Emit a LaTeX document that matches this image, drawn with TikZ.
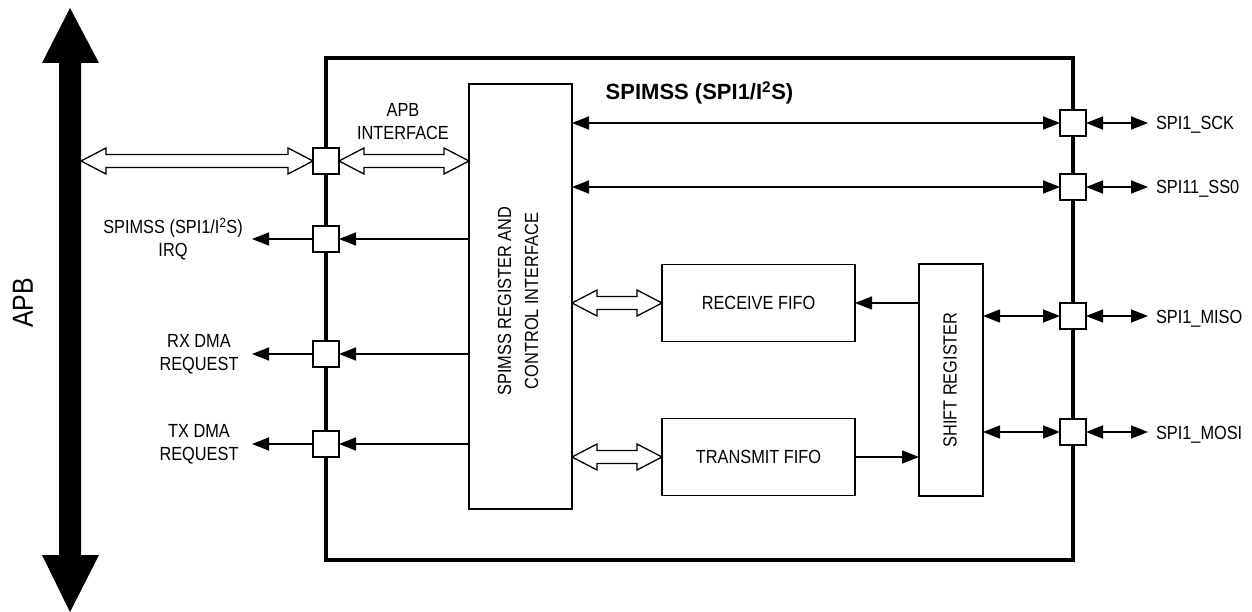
\documentclass[tikz,border=0pt]{standalone}
\usepackage{fontspec}
\setmainfont{Liberation Sans}[FakeStretch=0.86]
\newfontfamily\titlefont{Liberation Sans}
\usetikzlibrary{arrows.meta,calc}
\tikzset{
  lbl/.style={font=\fontsize{19}{23}\selectfont, inner sep=0pt, outer sep=0pt},
  blk/.style={draw, line width=1.7pt, inner sep=0pt, outer sep=0pt, fill=white, font=\fontsize{19}{23}\selectfont},
  pinbox/.style={blk, minimum width=26pt, minimum height=26pt},
  sig/.style={line width=1.6pt, -{Triangle[length=17pt,width=13pt]}},
  sigb/.style={line width=1.6pt, {Triangle[length=17pt,width=13pt]}-{Triangle[length=17pt,width=13pt]}},
  hollowstyle/.style={draw, line width=1.3pt, fill=white, line join=miter}
}
\newcommand\hollowarrow[2]{%
  \draw[hollowstyle] (#1) -- ($(#1)+(25,13)$) -- ($(#1)+(25,6.5)$) -- ($(#2)+(-25,6.5)$)
   -- ($(#2)+(-25,13)$) -- (#2) -- ($(#2)+(-25,-13)$) -- ($(#2)+(-25,-6.5)$)
   -- ($(#1)+(25,-6.5)$) -- ($(#1)+(25,-13)$) -- cycle;}
\begin{document}
\begin{tikzpicture}[x=1pt,y=-1pt]
\useasboundingbox (0,0) rectangle (1252,612);
% APB bus
\fill (59,63) -- (42,63) -- (70,8) -- (99,63) -- (81,63) -- (81,555) -- (99,555) -- (70,612) -- (42,555) -- (59,555) -- cycle;
\coordinate (busE) at (81,161);
\node[font=\fontsize{29}{32}\selectfont, rotate=90, inner sep=0pt] (apb) at (23,303) {APB};
% main block
\node[draw, line width=3.2pt, minimum width=747pt, minimum height=502pt, inner sep=0pt, outer sep=0pt] (spimss) at (699.5,309) {};
\node[font=\titlefont\bfseries\fontsize{22}{26}\selectfont, anchor=base, inner sep=0pt] (title) at (699.5,100) {SPIMSS (SPI1/I\textsuperscript{2}S)};
% inner blocks
\node[blk, minimum width=103pt, minimum height=425pt] (reg) at (520.5,296.5) {};
\node[lbl, rotate=90, align=center, font=\fontsize{19}{27}\selectfont] (regtxt) at (518,301) {SPIMSS REGISTER AND\\CONTROL INTERFACE};
\node[blk, minimum width=193pt, minimum height=77pt] (rx) at (758.5,303) {RECEIVE FIFO};
\node[blk, minimum width=193pt, minimum height=77pt] (tx) at (758.5,457) {TRANSMIT FIFO};
\node[blk, minimum width=64pt, minimum height=232pt] (shift) at (951,380) {};
\node[lbl, rotate=90] (shifttxt) at (950,380) {SHIFT REGISTER};
% pins left
\node[pinbox] (papb) at (326,161) {};
\node[pinbox] (pirq) at (326,239) {};
\node[pinbox] (prx) at (326,354) {};
\node[pinbox] (ptx) at (326,444) {};
% pins right
\node[pinbox] (psck) at (1073,123) {};
\node[pinbox] (pss) at (1073,187) {};
\node[pinbox] (pmiso) at (1073,316) {};
\node[pinbox] (pmosi) at (1073,432) {};
% left labels
\node[lbl, align=center] (lirq) at (173,239) {SPIMSS (SPI1/I\textsuperscript{2}S)\\IRQ};
\node[lbl, align=center] (lrx) at (199,354) {RX DMA\\REQUEST};
\node[lbl, align=center] (ltx) at (199,444) {TX DMA\\REQUEST};
\node[lbl, align=center] (lapbif) at (403,122) {APB\\INTERFACE};
\coordinate (tirq) at (252,239);
\coordinate (trx) at (252,354);
\coordinate (ttx) at (252,444);
% right labels
\node[lbl, anchor=base west] (lsck) at (1156,130) {SPI1\_SCK};
\node[lbl, anchor=base west] (lss) at (1156,194) {SPI11\_SS0};
\node[lbl, anchor=base west] (lmiso) at (1156,323) {SPI1\_MISO};
\node[lbl, anchor=base west] (lmosi) at (1156,439) {SPI1\_MOSI};
\coordinate (tsck) at (1148,123);
\coordinate (tss) at (1148,187);
\coordinate (tmiso) at (1148,316);
\coordinate (tmosi) at (1148,432);
% hollow bus arrows
\coordinate (h1r) at (papb.west);
\hollowarrow{busE}{h1r}
\coordinate (h2l) at (papb.east);
\coordinate (h2r) at (reg.west |- papb);
\hollowarrow{h2l}{h2r}
\coordinate (h3l) at (reg.east |- rx);
\coordinate (h3r) at (rx.west);
\hollowarrow{h3l}{h3r}
\coordinate (h4l) at (reg.east |- tx);
\coordinate (h4r) at (tx.west);
\hollowarrow{h4l}{h4r}
% left signals
\draw[sig] (reg.west |- pirq) -- (pirq.east);
\draw[sig] (pirq.west) -- (tirq);
\draw[sig] (reg.west |- prx) -- (prx.east);
\draw[sig] (prx.west) -- (trx);
\draw[sig] (reg.west |- ptx) -- (ptx.east);
\draw[sig] (ptx.west) -- (ttx);
% right signals
\draw[sigb] (reg.east |- psck) -- (psck.west);
\draw[sigb] (reg.east |- pss) -- (pss.west);
\draw[sigb] (shift.east |- pmiso) -- (pmiso.west);
\draw[sigb] (shift.east |- pmosi) -- (pmosi.west);
\draw[sigb] (psck.east) -- (tsck);
\draw[sigb] (pss.east) -- (tss);
\draw[sigb] (pmiso.east) -- (tmiso);
\draw[sigb] (pmosi.east) -- (tmosi);
% internal data
\draw[sig] (shift.west |- rx) -- (rx.east);
\draw[sig] (tx.east) -- (shift.west |- tx);
\end{tikzpicture}
\end{document}
